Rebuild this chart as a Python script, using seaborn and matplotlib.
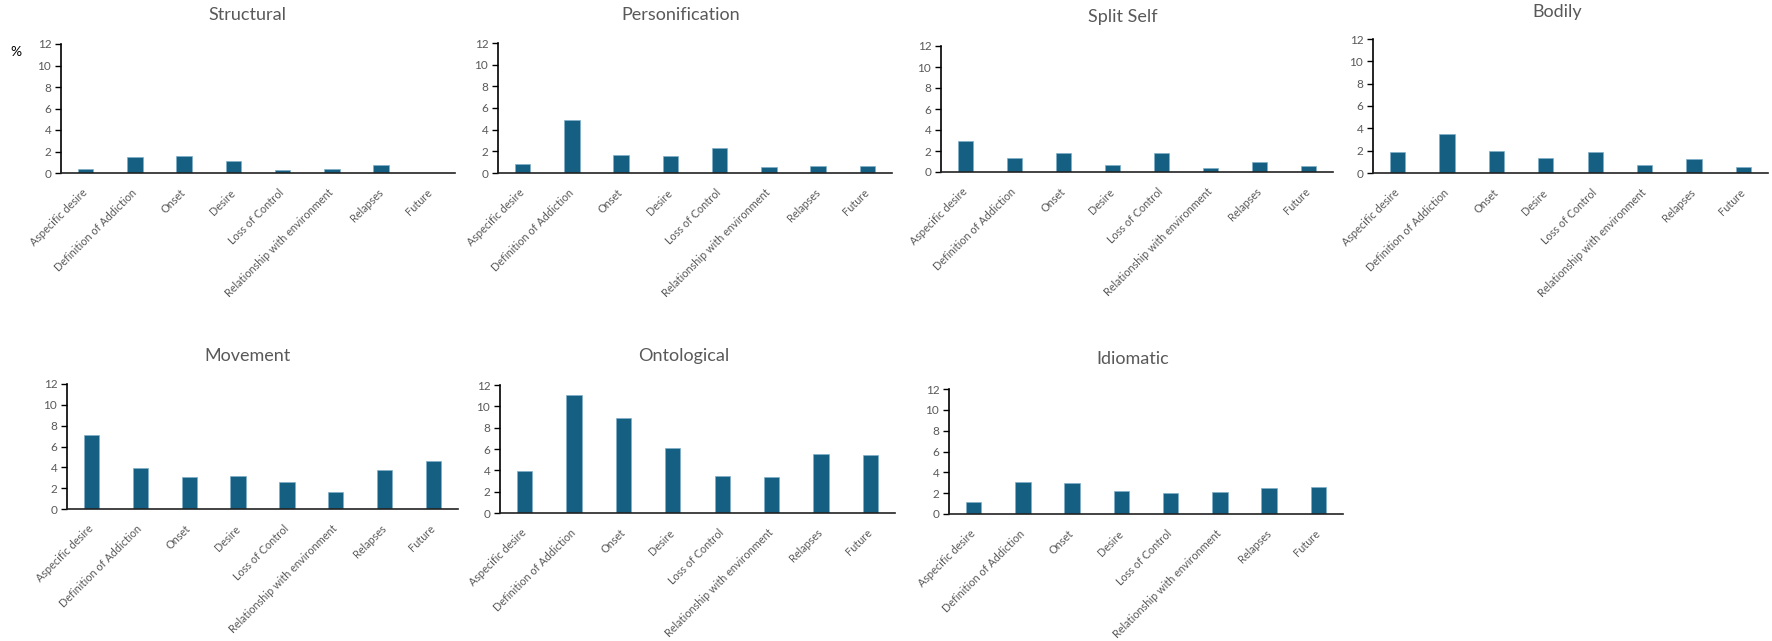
import matplotlib
matplotlib.use("Agg")
import matplotlib.pyplot as plt
import seaborn as sns
import pandas as pd

categories = ["Aspecific desire", "Definition of Addiction", "Onset", "Desire",
              "Loss of Control", "Relationship with environment", "Relapses", "Future"]

structural = [0.35, 1.45, 1.6, 1.15, 0.3, 0.35, 0.7, 0.0]
personification = [0.85, 4.85, 1.65, 1.55, 2.35, 0.6, 0.65, 0.65]
split_self = [3.0, 1.35, 1.8, 0.65, 1.85, 0.35, 0.95, 0.6]
bodily = [1.85, 3.5, 2.0, 1.3, 1.85, 0.75, 1.25, 0.55]
movement = [7.1, 3.9, 3.05, 3.2, 2.6, 1.6, 3.7, 4.65]
ontological = [3.95, 11.1, 8.9, 6.05, 3.45, 3.35, 5.5, 5.4]
idiomatic = [1.15, 3.05, 3.0, 2.2, 2.0, 2.1, 2.5, 2.6]

panels = [
    ("Structural", structural),
    ("Personification", personification),
    ("Split Self", split_self),
    ("Bodily", bodily),
    ("Movement", movement),
    ("Ontological", ontological),
    ("Idiomatic", idiomatic),
]

boxes = [(61, 455, 44, 173), (498, 892, 43, 173), (941, 1333, 46, 172), (1373, 1768, 39, 173),
         (67, 458, 384, 509), (500, 895, 385, 513), (949, 1343, 389, 514)]
title_pos = [(247, 15), (681, 15), (1123, 17), (1557, 12), (248, 356), (684, 356), (1133, 359)]

W, H = 1772, 641
BAR = "#156082"
GREY = "#595959"

sns.set_theme(style="white")
plt.rcParams["font.family"] = ["Lato", "DejaVu Sans"]

fig = plt.figure(figsize=(W / 100, H / 100), dpi=100)

for (name, vals), (x0, x1, yt, yb), (tx, ty) in zip(panels, boxes, title_pos):
    ax = fig.add_axes([x0 / W, (H - yb) / H, (x1 - x0) / W, (yb - yt) / H])
    df = pd.DataFrame({"cat": categories, "pct": vals})
    sns.barplot(data=df, x="cat", y="pct", ax=ax, color=BAR, width=0.31,
                saturation=1, edgecolor="#7fb0c8", linewidth=0.5)
    ax.set_ylim(0, 12)
    ax.set_xlim(-0.5, 7.5)
    ax.set_yticks(range(0, 13, 2))
    ax.set_xlabel("")
    ax.set_ylabel("")
    for s in ["top", "right"]:
        ax.spines[s].set_visible(False)
    ax.spines["left"].set_color("black")
    ax.spines["bottom"].set_color("#222222")
    ax.spines["left"].set_linewidth(1.2)
    ax.spines["bottom"].set_linewidth(1.2)
    ax.tick_params(axis="y", left=True, length=4, width=1, color="black",
                   labelsize=8.5, labelcolor=GREY, pad=3)
    ax.tick_params(axis="x", bottom=False, labelsize=7.8, labelcolor=GREY, pad=7)
    plt.setp(ax.get_xticklabels(), rotation=45, ha="right", rotation_mode="anchor", va="center")
    fig.text(tx / W, 1 - ty / H, name, ha="center", va="center", fontsize=13, color=GREY)

fig.text(10 / W, 1 - 52 / H, "%", ha="left", va="center", fontsize=10, color="black")

fig.savefig("out.png", dpi=100)
